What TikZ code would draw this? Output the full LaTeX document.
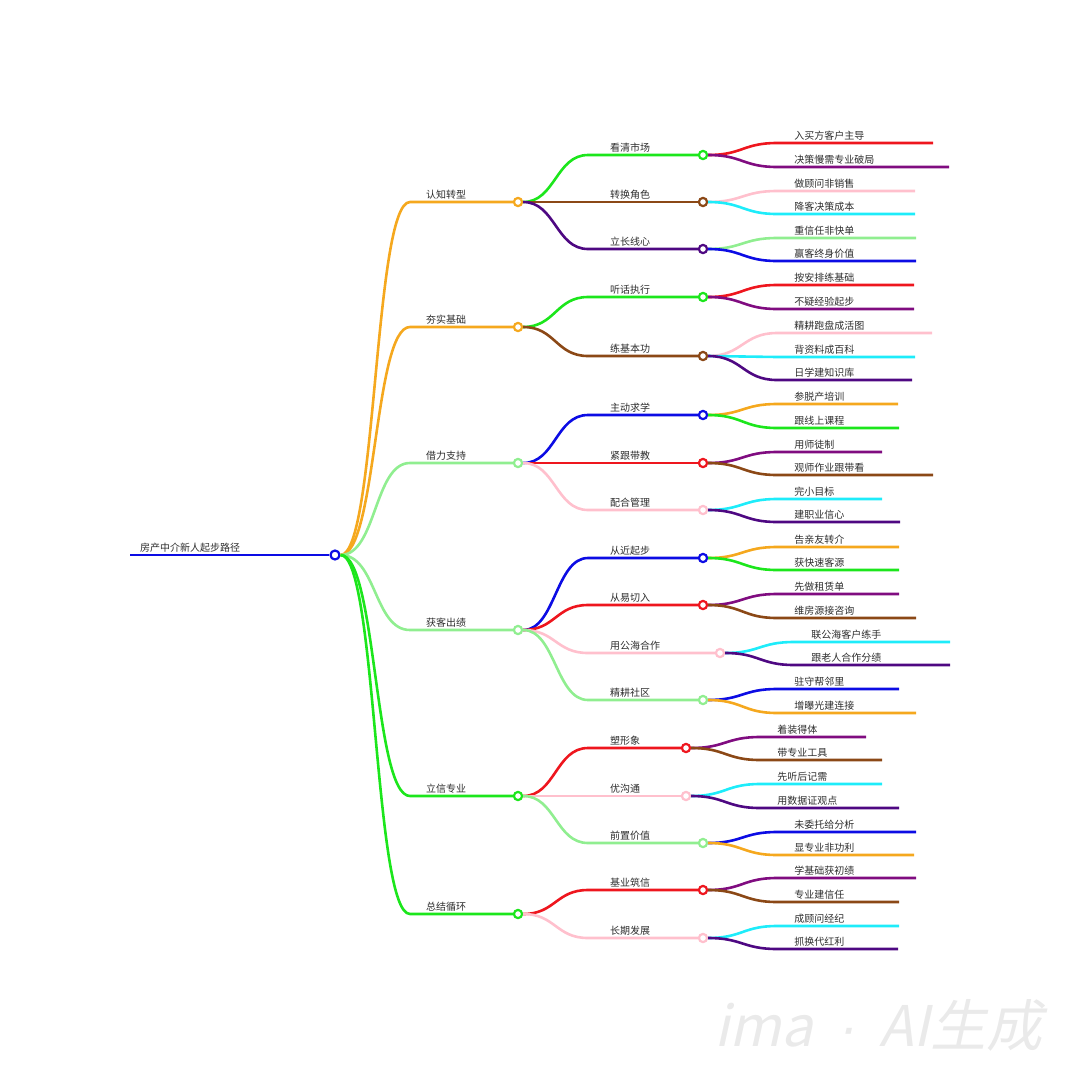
\documentclass[tikz,border=0pt]{standalone}
\usepackage{fontspec}
\setmainfont{Noto Sans CJK SC}
\newfontfamily\markfont{Liberation Sans}
\usetikzlibrary{calc}
\definecolor{mapRed}{RGB}{238,22,30}
\definecolor{mapPurple}{RGB}{128,12,128}
\definecolor{mapPink}{RGB}{255,192,205}
\definecolor{mapCyan}{RGB}{30,236,250}
\definecolor{mapLight}{RGB}{144,238,144}
\definecolor{mapBlue}{RGB}{12,12,228}
\definecolor{mapOrange}{RGB}{245,168,30}
\definecolor{mapGreen}{RGB}{28,230,28}
\definecolor{mapBrown}{RGB}{139,72,22}
\definecolor{mapIndigo}{RGB}{78,8,130}
\definecolor{mapText}{RGB}{45,45,45}
\definecolor{mapMark}{RGB}{234,234,234}

\begin{document}
\begin{tikzpicture}[x=1pt, y=-1pt,
    link/.style={line width=2.6pt},
    hub/.style={circle, draw=#1, fill=white, line width=2.2pt, minimum size=8.2pt, inner sep=0pt},
    lbl/.style={anchor=base west, inner sep=0pt, text=mapText, font=\fontsize{10}{12}\selectfont}]
  \useasboundingbox (0,0) rectangle (1080,1080);

  % root
  \coordinate (rs) at (130,555);
  \node[hub=mapBlue, minimum size=9pt] (r0) at (335,555) {};
  \node[lbl] (rt) at (140,551.5) {房产中介新人起步路径};
  \draw[link,mapBlue] (rs) -- (r0.west);

  % first level
  \foreach \n/\y/\c/\t in {a1/202/mapOrange/认知转型, a2/327/mapOrange/夯实基础,
      a3/463/mapLight/借力支持, a4/630/mapLight/获客出绩,
      a5/796/mapGreen/立信专业, a6/914/mapGreen/总结循环}{
    \node[hub=\c] (\n) at (518,\y) {};
    \node[lbl] (\n t) at (426,\y-3.5) {\t};
    \draw[link,\c] (r0.east) .. controls +(36,0) and +(-36,0) .. (410,\y) -- (\n.west);
  }

  % second level
  \foreach \n/\q/\x/\y/\c/\t in {b11/a1/703/155/mapGreen/看清市场, b12/a1/703/202/mapBrown/转换角色,
      b13/a1/703/249/mapIndigo/立长线心, b21/a2/703/297/mapGreen/听话执行,
      b22/a2/703/356/mapBrown/练基本功, b31/a3/703/415/mapBlue/主动求学,
      b32/a3/703/463/mapRed/紧跟带教, b33/a3/703/510/mapPink/配合管理,
      b41/a4/703/558/mapBlue/从近起步, b42/a4/703/605/mapRed/从易切入,
      b43/a4/720/653/mapPink/用公海合作, b44/a4/703/700/mapLight/精耕社区,
      b51/a5/686/748/mapRed/塑形象, b52/a5/686/796/mapPink/优沟通,
      b53/a5/703/843/mapLight/前置价值, b61/a6/703/890/mapRed/基业筑信,
      b62/a6/703/938/mapPink/长期发展}{
    \node[hub=\c] (\n) at (\x,\y) {};
    \node[lbl] (\n t) at (610,\y-3.5) {\t};
    \draw[link,\c] (\q.east) .. controls +(32,0) and +(-32,0) .. (588,\y) -- (\n.west);
  }

  % leaves
  \foreach \q/\v/\c/\e/\t [count=\i] in {b11/143/mapRed/933/入买方客户主导, b11/167/mapPurple/949/决策慢需专业破局,
      b12/191/mapPink/915/做顾问非销售, b12/214/mapCyan/915/降客决策成本,
      b13/238/mapLight/916/重信任非快单, b13/261/mapBlue/916/赢客终身价值,
      b21/285/mapRed/914/按安排练基础, b21/309/mapPurple/914/不疑经验起步,
      b22/333/mapPink/932/精耕跑盘成活图, b22/357/mapCyan/915/背资料成百科, b22/380/mapIndigo/912/日学建知识库,
      b31/404/mapOrange/898/参脱产培训, b31/428/mapGreen/899/跟线上课程,
      b32/452/mapPurple/882/用师徒制, b32/475/mapBrown/933/观师作业跟带看,
      b33/499/mapCyan/882/完小目标, b33/522/mapIndigo/900/建职业信心,
      b41/547/mapOrange/899/告亲友转介, b41/570/mapGreen/899/获快速客源,
      b42/594/mapPurple/899/先做租赁单, b42/618/mapBrown/916/维房源接咨询,
      b43/642/mapCyan/950/联公海客户练手, b43/665/mapIndigo/950/跟老人合作分绩,
      b44/689/mapBlue/899/驻守帮邻里, b44/713/mapOrange/916/增曝光建连接,
      b51/737/mapPurple/866/着装得体, b51/760/mapBrown/882/带专业工具,
      b52/784/mapCyan/882/先听后记需, b52/808/mapIndigo/899/用数据证观点,
      b53/832/mapBlue/916/未委托给分析, b53/855/mapOrange/914/显专业非功利,
      b61/878/mapPurple/916/学基础获初绩, b61/902/mapBrown/899/专业建信任,
      b62/926/mapCyan/899/成顾问经纪, b62/949/mapIndigo/898/抓换代红利}{
    \draw[link,\c] let \p1=(\q) in (\q.east) .. controls +(34,0) and +(-34,0) .. (\x1+74pt,\v)
      node[lbl, xshift=16pt, yshift=3.5pt] (l\i) {\t} -- (\e,\v);
  }

  % watermark
  \begin{scope}[shift={(714,1046)}, xslant=0.22]
    \node[anchor=base west, inner sep=0pt, text=mapMark, font=\fontsize{56}{60}\selectfont, transform shape] (wm) at (0,0) {ima\hspace{24pt}{\markfont ·}\hspace{24pt}AI生成};
  \end{scope}
\end{tikzpicture}
\end{document}
